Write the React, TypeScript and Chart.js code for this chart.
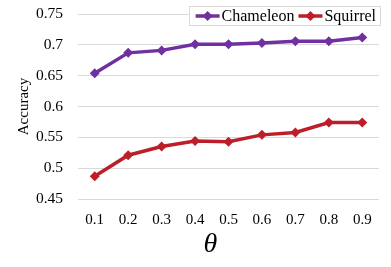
import React, { useEffect, useRef } from "react";
import { Chart, registerables } from "chart.js";

Chart.register(...registerables);

const thetaLabels = ["0.1", "0.2", "0.3", "0.4", "0.5", "0.6", "0.7", "0.8", "0.9"];
const chameleon = [0.654, 0.687, 0.691, 0.701, 0.701, 0.703, 0.706, 0.706, 0.712];
const squirrel = [0.487, 0.521, 0.535, 0.544, 0.543, 0.554, 0.558, 0.574, 0.574];
const yMin = 0.45;
const yMax = 0.75;
const yStep = 0.05;

const PURPLE = "#7030A0";
const RED = "#BC1F2A";
const SERIF = "'Liberation Serif', 'Times New Roman', serif";

const overlayPlugin = {
  id: "overlay",
  afterDraw(chart: any) {
    const { ctx, chartArea } = chart;
    ctx.save();
    // theta axis label
    ctx.fillStyle = "#000";
    ctx.font = `italic 28px ${SERIF}`;
    ctx.textAlign = "center";
    ctx.textBaseline = "middle";
    ctx.fillText("θ", (chartArea.left + chartArea.right) / 2 - 18, chartArea.bottom + 46);

    // legend
    ctx.font = `16px ${SERIF}`;
    const items = chart.data.datasets.map((d: any) => ({ label: d.label, color: d.borderColor }));
    const padL = 7, lineW = 24, gapT = 2, gapI = 4, padR = 4;
    let total = padL;
    items.forEach((it: any, i: number) => {
      total += lineW + gapT + ctx.measureText(it.label).width + (i < items.length - 1 ? gapI : padR);
    });
    const right = chartArea.right + 1;
    const top = chartArea.top - 8;
    const h = 19;
    const left = right - total;
    ctx.fillStyle = "#fff";
    ctx.fillRect(left, top, total, h);
    ctx.strokeStyle = "#d9d9d9";
    ctx.lineWidth = 1;
    ctx.strokeRect(Math.round(left) + 0.5, top + 0.5, Math.round(total), h);
    let x = left + padL;
    const cy = top + h / 2 + 0.5;
    items.forEach((it: any) => {
      ctx.strokeStyle = it.color;
      ctx.lineWidth = 3.5;
      ctx.beginPath();
      ctx.moveTo(x, cy);
      ctx.lineTo(x + lineW, cy);
      ctx.stroke();
      ctx.fillStyle = it.color;
      const mx = x + lineW / 2;
      const r = 5;
      ctx.beginPath();
      ctx.moveTo(mx, cy - r);
      ctx.lineTo(mx + r, cy);
      ctx.lineTo(mx, cy + r);
      ctx.lineTo(mx - r, cy);
      ctx.closePath();
      ctx.fill();
      x += lineW + gapT;
      ctx.fillStyle = "#000";
      ctx.textAlign = "left";
      ctx.textBaseline = "middle";
      ctx.fillText(it.label, x, cy + 1);
      x += ctx.measureText(it.label).width + gapI;
    });
    ctx.restore();
  },
};

export default function App() {
  const ref = useRef<HTMLCanvasElement | null>(null);
  useEffect(() => {
    document.body.style.margin = "0";
    if (!ref.current) return;
    const mk = (label: string, data: number[], color: string) => ({
      label,
      data,
      borderColor: color,
      backgroundColor: color,
      pointBackgroundColor: color,
      pointBorderColor: color,
      pointBorderWidth: 0,
      pointStyle: "rectRot",
      pointRadius: 5,
      borderWidth: 3.5,
      tension: 0,
      fill: false,
    });
    const chart = new Chart(ref.current, {
      type: "line",
      data: {
        labels: thetaLabels,
        datasets: [mk("Chameleon", chameleon, PURPLE), mk("Squirrel", squirrel, RED)],
      },
      options: {
        animation: false,
        responsive: false,
        layout: { padding: { top: 14, right: 12, left: 0, bottom: 0 } },
        plugins: { legend: { display: false }, tooltip: { enabled: false } },
        scales: {
          x: {
            offset: true,
            grid: { display: false, drawTicks: false },
            border: { display: false },
            ticks: { color: "#000", font: { family: SERIF, size: 15 }, padding: 12 },
            afterFit: (s: any) => { s.height = 68; s.paddingLeft = 0; s.paddingRight = 0; },
          },
          y: {
            min: yMin,
            max: yMax,
            grid: { color: "#d9d9d9", drawTicks: false, lineWidth: 1 },
            border: { display: false },
            ticks: {
              stepSize: yStep,
              color: "#000",
              font: { family: SERIF, size: 15.5 },
              padding: 15,
              callback: (v: any) => String(Number(Number(v).toFixed(2))),
            },
            title: {
              display: true,
              text: "Accuracy",
              color: "#000",
              font: { family: SERIF, size: 15 },
              padding: { top: 15, bottom: 0 },
            },
            afterFit: (s: any) => { s.width = 78; s.paddingTop = 0; s.paddingBottom = 0; },
          },
        },
      },
      plugins: [overlayPlugin],
    });
    return () => chart.destroy();
  }, []);
  return <canvas ref={ref} width={391} height={267} style={{ display: "block" }} />;
}
